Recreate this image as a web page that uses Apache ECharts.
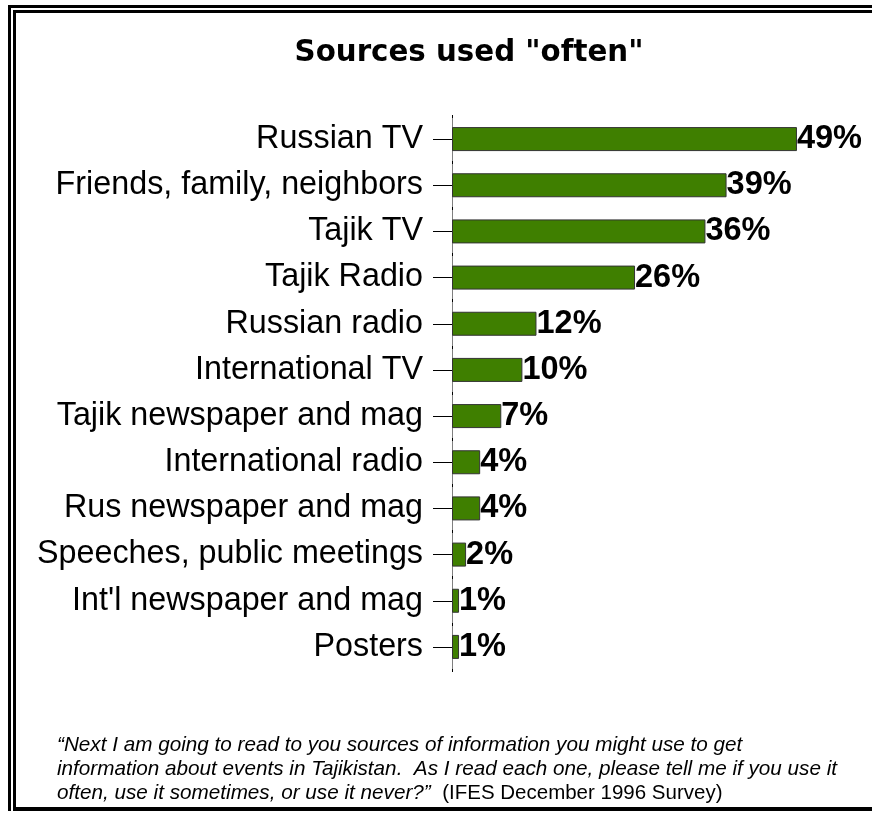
<!DOCTYPE html>
<html>
<head>
<meta charset="utf-8">
<script src="https://cdn.jsdelivr.net/npm/echarts@6/dist/echarts.min.js"></script>
<style>
  html, body { margin: 0; padding: 0; background: #fff; }
  #chart { width: 872px; height: 813px; }
</style>
</head>
<body>
<div id="chart"></div>
<script>
// Survey: share of respondents using each source "often"
const categories = [
  'Russian TV',
  'Friends, family, neighbors',
  'Tajik TV',
  'Tajik Radio',
  'Russian radio',
  'International TV',
  'Tajik newspaper and mag',
  'International radio',
  'Rus newspaper and mag',
  'Speeches, public meetings',
  "Int'l newspaper and mag",
  'Posters'
];
const oftenPct = [49, 39, 36, 26, 12, 10, 7, 4, 4, 2, 1, 1];

const titleText = 'Sources used "often"';
const noteLines = [
  '\u201CNext I am going to read to you sources of information you might use to get',
  'information about events in Tajikistan.  As I read each one, please tell me if you use it',
  'often, use it sometimes, or use it never?\u201D'
];
const noteSource = '(IFES December 1996 Survey)';

const FONT = '"Liberation Sans", Arial, sans-serif';
const TITLE_FONT = '"DejaVu Sans", "Liberation Sans", sans-serif';

const chart = echarts.init(document.getElementById('chart'), null, { renderer: 'canvas' });

// Double frame lines around the slide
const frame = [
  { x: 8, y: 5, w: 864, h: 3 },
  { x: 8, y: 5, w: 3, h: 806 },
  { x: 13, y: 10, w: 859, h: 3 },
  { x: 13, y: 10, w: 3, h: 800 },
  { x: 13, y: 807, w: 859, h: 4 }
].map(r => ({
  type: 'rect',
  shape: { x: r.x, y: r.y, width: r.w, height: r.h },
  style: { fill: '#000' },
  silent: true
}));

const noteGraphic = {
  type: 'text',
  left: 57,
  top: 733,
  style: {
    text: noteLines[0] + '\n' + noteLines[1] + '\n' + noteLines[2] + '  {src|' + noteSource + '}',
    font: 'italic 20.7px ' + FONT,
    fill: '#000',
    lineHeight: 24,
    rich: {
      src: { fontStyle: 'normal', fontSize: 20.5, fontFamily: FONT, fill: '#000', lineHeight: 24 }
    }
  },
  silent: true
};

chart.setOption({
  animation: false,
  backgroundColor: '#fff',
  title: {
    text: titleText,
    left: 464,
    textAlign: 'center',
    top: 34,
    textStyle: { fontFamily: TITLE_FONT, fontWeight: 'bold', fontSize: 29.3, color: '#000' }
  },
  grid: { left: 452, top: 116, width: 352, height: 554, containLabel: false },
  xAxis: {
    type: 'value',
    min: 0,
    max: 50,
    show: false
  },
  yAxis: [{
    type: 'category',
    inverse: true,
    data: categories,
    axisLine: { show: true, lineStyle: { color: '#808080', width: 1 } },
    axisTick: { show: true, alignWithLabel: true, length: 19, lineStyle: { color: '#000', width: 1 } },
    axisLabel: { margin: 29, fontFamily: FONT, fontSize: 32.3, color: '#000', padding: [6, 0, 0, 0] },
    splitLine: { show: false }
  }, {
    // tiny marks on the axis at the category boundaries
    type: 'category',
    inverse: true,
    position: 'left',
    data: categories,
    axisLine: { show: false },
    axisTick: { show: true, inside: true, length: 1, lineStyle: { color: '#000', width: 3 } },
    axisLabel: { show: false },
    splitLine: { show: false }
  }],
  series: [{
    type: 'bar',
    data: oftenPct,
    barWidth: 24,
    itemStyle: { color: '#3f7f00', borderColor: '#333', borderWidth: 1 },
    label: {
      show: true,
      position: 'right',
      distance: 0,
      formatter: p => p.value + '%',
      fontFamily: FONT,
      fontWeight: 'bold',
      fontSize: 32.5,
      color: '#000',
      padding: [6, 0, 0, 0]
    }
  }],
  graphic: frame.concat([noteGraphic])
});
</script>
</body>
</html>
